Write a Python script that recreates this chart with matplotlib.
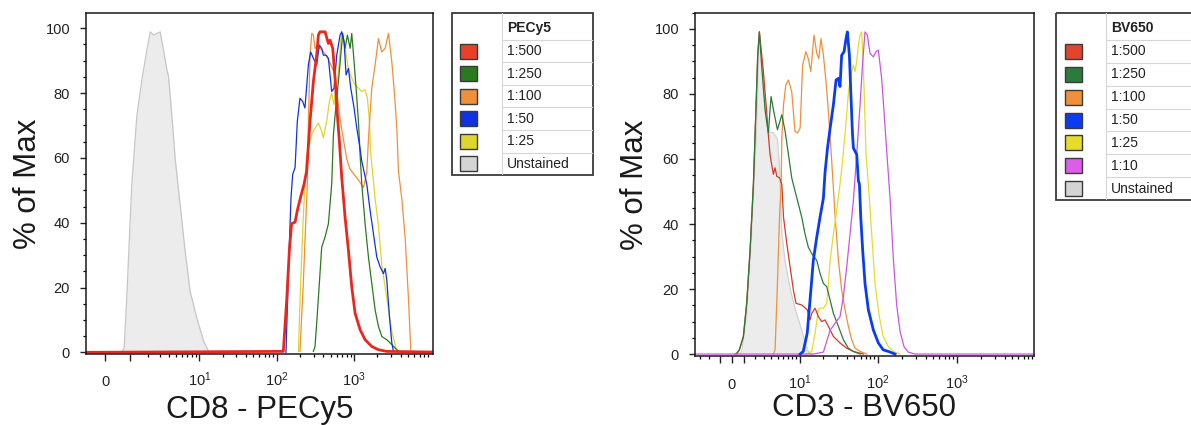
import matplotlib.pyplot as plt
from matplotlib.patches import Rectangle
from matplotlib.ticker import MultipleLocator, NullFormatter

plt.rcParams['font.family'] = ['Liberation Sans', 'DejaVu Sans']
plt.rcParams['mathtext.fontset'] = 'custom'
plt.rcParams['mathtext.rm'] = 'Liberation Sans'

# --- CD8 - PECy5 panel ---
pe_gray_x = [0.63, 0.73, 0.84, 1.07, 1.33, 1.62, 1.94, 2.18, 2.44, 2.72, 3.02, 3.35,
             3.73, 3.93, 4.36, 4.83, 5.63, 6.55, 7.61, 9.31, 11.4, 13.2, 14.6]
pe_gray_y = [0, 1.3, 16.7, 51.4, 72.9, 84.2, 93.4, 98.9, 97.9, 98.4, 98.9, 93.4,
             87.2, 85.2, 72.9, 59.6, 45.3, 31.0, 18.7, 10.5, 3.4, 0.3, 0]

pe_red_x = [-1, 122, 135, 146, 156, 173, 185, 204, 226, 244, 270, 298, 329, 346, 363,
            422, 466, 489, 530, 568, 608, 646, 693, 765, 845, 933, 1030, 1196, 1387,
            1692, 2063, 2644, 20000]
pe_red_y = [0, 0.3, 16.2, 31.5, 39.7, 40.2, 43.8, 47.9, 51.9, 55.9, 71.3, 83.5, 91.7,
            97.9, 98.9, 98.9, 95.3, 96.3, 93.8, 84.6, 73.3, 65.1, 53.9, 41.7, 31.5,
            20.2, 12.1, 7.0, 3.9, 1.8, 0.8, 0.3, 0]

pe_blue_x = [132, 143, 153, 161, 173, 185, 200, 217, 232, 257, 275, 298, 329, 356,
             382, 401, 434, 466, 514, 551, 597, 659, 693, 743, 788, 845, 906, 1000,
             1083, 1172, 1257, 1458, 1610, 1778, 1963, 2168, 2394, 2516, 2644, 2863,
             3069, 3226]
pe_blue_y = [0, 26.9, 47.3, 54.9, 57.0, 71.3, 78.4, 77.4, 75.4, 88.7, 92.7, 90.7,
             88.7, 94.8, 93.8, 91.7, 91.7, 90.7, 80.5, 81.5, 91.7, 97.9, 98.9, 95.8,
             85.6, 87.6, 81.5, 75.4, 69.2, 64.1, 59.0, 51.9, 43.8, 36.6, 29.4, 26.4,
             24.3, 25.9, 22.3, 11.0, 2.9, 0.3]

pe_green_x = [298, 313, 329, 356, 382, 422, 466, 514, 541, 585, 627, 673, 713, 765,
              820, 888, 933, 1000, 1061, 1138, 1196, 1257, 1387, 1532, 1692, 1869,
              2063, 2278, 2644, 3069, 3563, 3936]
pe_green_y = [0.3, 1.8, 9.0, 21.3, 32.5, 35.6, 39.7, 51.9, 67.2, 76.4, 83.5, 91.7,
              98.4, 93.8, 97.9, 93.8, 98.4, 89.7, 81.5, 71.3, 61.0, 51.9, 39.7, 29.4,
              21.3, 13.1, 8.0, 4.9, 3.9, 2.4, 0.8, 0.1]

pe_orange_x = [200, 221, 239, 249, 257, 270, 284, 298, 313, 329, 382, 443, 514, 568,
               659, 804, 888, 1030, 1196, 1320, 1458, 1532, 1692, 1869, 2063, 2278,
               2516, 2779, 3069, 3330, 3563, 3740, 4136, 4571, 5043, 5405]
pe_orange_y = [0.3, 21.3, 41.7, 51.9, 71.3, 91.7, 98.4, 97.9, 93.8, 94.4, 93.4, 91.3,
               88.2, 85.2, 71.9, 59.6, 56.5, 54.5, 52.5, 50.8, 55.5, 65.7, 81.5, 88.7,
               96.8, 92.7, 93.8, 98.4, 89.7, 79.4, 69.2, 55.9, 47.3, 35.1, 16.2, 0.3]

pe_yellow_x = [191, 204, 221, 232, 244, 284, 313, 346, 382, 401, 443, 480, 514, 551,
               585, 627, 673, 693, 765, 845, 933, 1030, 1138, 1257, 1387, 1487, 1578,
               1643, 1743, 1869, 2063, 2278, 2644, 3069, 3563]
pe_yellow_y = [0.3, 21.3, 41.7, 51.9, 61.0, 67.2, 69.2, 70.8, 68.2, 66.2, 71.3, 77.4,
               80.0, 76.4, 81.5, 86.6, 95.8, 98.9, 93.8, 87.6, 84.6, 82.5, 81.5, 80.5,
               81.0, 78.4, 71.3, 61.0, 55.0, 47.3, 39.2, 27.0, 16.7, 6.4, 0.3]

# --- CD3 - BV650 panel ---
bv_gray_x = [0.63, 0.83, 1.26, 1.73, 2.23, 2.51, 2.97, 3.37, 3.82, 4.30, 4.94, 5.29,
             5.71, 6.35, 7.43, 8.64, 10.1, 11.7, 12.9, 14.3]
bv_gray_y = [0, 0.8, 12.0, 37.5, 70.1, 99.2, 83.4, 70.1, 68.1, 68.1, 66.1, 57.9,
             37.5, 28.3, 20.2, 14.1, 9.0, 3.9, 0.8, 0]

bv_red_x = [0.27, 0.41, 0.63, 0.97, 1.26, 1.57, 1.89, 2.16, 2.33, 2.51, 2.97, 3.37,
            3.59, 3.82, 4.05, 4.30, 4.56, 4.83, 5.29, 5.71, 6.03, 6.70, 7.43, 8.22,
            8.91, 10.6, 12.5, 13.6, 14.3, 15.8, 17.4, 19.2, 21.2, 23.4, 27.1, 32.9,
            40.0, 48.6, 65.0]
bv_red_y = [0, 0.3, 1.3, 5.4, 15.6, 31.9, 52.3, 76.7, 91.9, 99.1, 86.9, 74.6, 67.5,
            61.4, 58.3, 55.3, 57.3, 54.7, 54.2, 52.2, 42.1, 33.9, 26.8, 19.7, 15.6,
            15.1, 13.6, 10.5, 12.5, 14.1, 11.5, 10.0, 10.5, 8.5, 5.4, 3.4, 1.8, 0.8, 0]

bv_green_x = [0.41, 0.63, 0.97, 1.26, 1.57, 1.89, 2.16, 2.33, 2.51, 2.77, 3.17, 3.59,
              3.96, 4.40, 4.94, 5.71, 6.35, 7.05, 7.81, 8.64, 9.57, 10.6, 11.7, 12.9,
              14.3, 16.6, 18.3, 20.2, 22.3, 24.6, 27.1, 31.4, 36.3, 42.0, 48.6, 59.1]
bv_green_y = [0, 1.3, 5.4, 15.6, 31.9, 52.3, 76.7, 91.9, 99.1, 88.5, 75.1, 68.0,
              79.2, 74.2, 69.0, 73.6, 68.5, 61.4, 54.2, 50.2, 46.2, 42.1, 37.0, 32.9,
              30.9, 28.8, 24.8, 21.7, 20.7, 16.6, 12.5, 8.5, 4.4, 1.8, 0.8, 0]

bv_orange_x = [4.30, 4.56, 4.94, 5.29, 5.59, 5.71, 6.03, 6.49, 7.05, 7.81, 8.64, 9.28,
               10.1, 10.9, 12.0, 12.9, 13.9, 15.3, 16.6, 17.6, 18.8, 20.2, 21.8, 23.4,
               25.8, 28.5, 31.4, 34.5, 38.1, 42.0, 46.3, 51.0, 59.1, 71.7]
bv_orange_y = [0, 1.3, 21.7, 42.1, 52.3, 66.5, 76.7, 82.8, 84.3, 80.7, 68.5, 68.0,
               69.5, 88.9, 93.0, 90.9, 86.9, 98.1, 92.5, 90.9, 97.0, 91.9, 83.8, 74.6,
               59.3, 42.1, 28.8, 19.7, 13.6, 8.5, 4.4, 1.8, 0.8, 0]

bv_blue_x = [10.1, 11.1, 12.5, 13.6, 15.0, 16.6, 18.3, 20.2, 21.2, 22.7, 24.6, 27.1,
             29.3, 31.4, 32.9, 34.5, 37.0, 39.2, 40.8, 43.3, 44.9, 47.2, 48.6, 51.0,
             53.6, 56.3, 58.0, 60.3, 63.8, 68.3, 75.3, 87.1, 100.8, 116, 135, 164]
bv_blue_y = [0, 0.8, 6.4, 16.6, 28.8, 36.0, 42.1, 48.0, 55.9, 63.0, 69.5, 76.7,
             84.3, 84.8, 82.3, 91.9, 93.0, 97.0, 99.1, 91.9, 81.8, 68.5, 63.4, 62.4,
             61.4, 53.2, 52.3, 42.1, 31.9, 21.7, 13.6, 7.4, 3.4, 1.3, 0.8, 0]

bv_yellow_x = [12.3, 14.3, 15.8, 17.4, 18.3, 20.2, 22.3, 23.4, 24.6, 27.1, 29.8, 32.9,
               35.6, 38.8, 42.4, 46.3, 48.6, 51.0, 53.6, 56.3, 59.1, 62.0, 66.4, 70.3,
               75.3, 83.0, 91.4, 103.7, 116, 135, 156, 190]
bv_yellow_y = [0, 0.8, 6.4, 13.6, 14.1, 14.1, 15.6, 21.7, 28.8, 37.0, 44.1, 52.3,
               59.9, 70.1, 81.3, 86.9, 88.9, 86.9, 89.9, 95.0, 98.1, 99.1, 81.8, 61.4,
               52.3, 37.0, 21.7, 11.5, 5.4, 2.3, 0.8, 0]

bv_magenta_x = [-5, 15.0, 20.2, 24.6, 28.5, 32.9, 36.3, 40.0, 44.1, 48.6, 53.6, 59.1,
                63.8, 68.3, 73.1, 79.1, 87.1, 94.1, 100.8, 111, 116, 128, 142, 156,
                172, 190, 213, 241, 293, 20000]
bv_magenta_y = [0, 0, 0.6, 7.3, 9.5, 11.5, 17.6, 26.8, 37.0, 47.2, 61.4, 76.7, 89.9,
                99.1, 98.1, 92.5, 91.4, 93.0, 93.5, 84.8, 78.3, 63.2, 47.7, 29.4, 15.1,
                6.9, 2.3, 0.6, 0, 0]

pe_labels = ['1:500', '1:250', '1:100', '1:50', '1:25', 'Unstained']
pe_colors = ['#e8412a', '#2c7a1f', '#f0903a', '#1232e0', '#ded62e', '#d4d4d4']
bv_labels = ['1:500', '1:250', '1:100', '1:50', '1:25', '1:10', 'Unstained']
bv_colors = ['#e0452e', '#2e7a3c', '#f0903a', '#0a3cf0', '#e6dc2c', '#dc5ee8', '#d4d4d4']

x_major = [0, 1, 10, 100, 1000]
x_major_labels = ['0', '', r'$\mathregular{10^1}$', r'$\mathregular{10^2}$',
                  r'$\mathregular{10^3}$']
x_minor = [2, 3, 4, 5, 6, 7, 8, 9, 20, 30, 40, 50, 60, 70, 80, 90,
           200, 300, 400, 500, 600, 700, 800, 900, 2000, 3000, 4000, 5000, 6000, 7000, 8000, 9000]

W, H = 1191, 425
fig = plt.figure(figsize=(W / 100, H / 100), dpi=100)


def px_axes(x, y, w, h):
    return fig.add_axes([x / W, 1 - (y + h) / H, w / W, h / H])


def style_axes(ax, width, xlim, ytop, major, labels, xlabel, xlab_y, ylab_x, xpad):
    ax.set_xscale('asinh', linear_width=width)
    ax.set_xlim(*xlim)
    ax.set_ylim(-0.6, ytop)
    ax.set_xticks(major, labels)
    ax.set_xticks([m for m in x_minor if xlim[0] < m < xlim[1]] +
                  ([-2, -3] if xlim[0] < -3 else []), minor=True)
    ax.xaxis.set_minor_formatter(NullFormatter())
    ax.set_yticks(range(0, 101, 20))
    ax.yaxis.set_minor_locator(MultipleLocator(5))
    ax.tick_params(axis='both', which='major', direction='out', width=1,
                   labelsize=10.5, colors='#222222')
    ax.tick_params(axis='x', which='major', length=5, pad=xpad)
    ax.tick_params(axis='y', which='major', length=4.5, pad=7)
    ax.tick_params(axis='x', which='minor', length=2.5, width=0.9)
    ax.tick_params(axis='y', which='minor', length=2.5, width=0.9)
    for t in ax.get_xticklabels():
        t.set_verticalalignment('baseline')
    for s in ax.spines.values():
        s.set_linewidth(1.1)
        s.set_color('#1a1a1a')
    ax.set_xlabel(xlabel, fontsize=22.5, color='#1a1a1a')
    ax.xaxis.set_label_coords(0.5, xlab_y)
    ax.xaxis.label.set_va('center')
    ax.set_ylabel('% of Max', fontsize=22.5, color='#1a1a1a')
    ax.yaxis.set_label_coords(ylab_x, 0.5)
    ax.yaxis.label.set_va('center')


def draw_legend(x, y, w, h, head, title, labels, colors, sw_x):
    lg = px_axes(x, y, w, h)
    lg.set_xlim(0, w)
    lg.set_ylim(h, 0)
    lg.axis('off')
    n = len(labels)
    row = (h - head) / n
    div = 50
    lg.plot([div, div], [0, h], color='#d6d6d6', lw=0.8)
    for i in range(n):
        yy = head + i * row
        lg.plot([div, w], [yy, yy], color='#d6d6d6', lw=0.8)
        cy = yy + row / 2
        lg.add_patch(Rectangle((sw_x, cy - 7.5), 16.5, 15, facecolor=colors[i],
                               edgecolor='#3a3a3a', lw=1))
        lg.text(55, cy, labels[i], fontsize=10, va='center', ha='left', color='#222222')
    lg.text(55, head / 2 + 1.5, title, fontsize=10, fontweight='bold', va='center',
            ha='left', color='#222222')
    lg.add_patch(Rectangle((0, 0), w, h, fill=False, edgecolor='#3a3a3a', lw=1.3,
                           clip_on=False))


# Left panel
ax1 = px_axes(86, 12.7, 346.7, 341.6)
ax1.fill_between(pe_gray_x, pe_gray_y, color='#ececec', lw=0)
ax1.plot(pe_gray_x, pe_gray_y, color='#c6c6c6', lw=0.9)
ax1.plot(pe_yellow_x, pe_yellow_y, color=pe_colors[4], lw=0.9)
ax1.plot(pe_orange_x, pe_orange_y, color=pe_colors[2], lw=0.9)
ax1.plot(pe_green_x, pe_green_y, color=pe_colors[1], lw=0.9)
ax1.plot(pe_blue_x, pe_blue_y, color=pe_colors[3], lw=0.9)
ax1.plot(pe_red_x, pe_red_y, color='#e8281e', lw=2.0)
style_axes(ax1, 1.22, (-0.73, 10350), 104.8, x_major, x_major_labels,
           'CD8 - PECy5', -0.163, -0.167, 18)

# Right panel
ax2 = px_axes(695, 12.7, 339, 343.3)
ax2.fill_between(bv_gray_x, bv_gray_y, color='#ececec', lw=0)
ax2.plot(bv_gray_x, bv_gray_y, color='#d0d0d0', lw=0.8)
ax2.plot(bv_orange_x, bv_orange_y, color=bv_colors[2], lw=0.9)
ax2.plot(bv_yellow_x, bv_yellow_y, color=bv_colors[4], lw=0.9)
ax2.plot(bv_red_x, bv_red_y, color='#d23a2a', lw=0.9)
ax2.plot(bv_green_x, bv_green_y, color=bv_colors[1], lw=0.9)
ax2.plot(bv_magenta_x, bv_magenta_y, color='#cc55dd', lw=0.9)
ax2.plot(bv_blue_x, bv_blue_y, color=bv_colors[3], lw=2.0)
style_axes(ax2, 2.8, (-3.61, 9450), 105.0, [-1] + x_major, [''] + x_major_labels,
           'CD3 - BV650', -0.151, -0.177, 18.5)

draw_legend(451.7, 12.7, 141.6, 162.3, 27.3, 'PECy5', pe_labels, pe_colors, 8.3)
draw_legend(1056, 12.7, 142, 187.3, 27.3, 'BV650', bv_labels, bv_colors, 9)

fig.savefig('out.png', dpi=100)
